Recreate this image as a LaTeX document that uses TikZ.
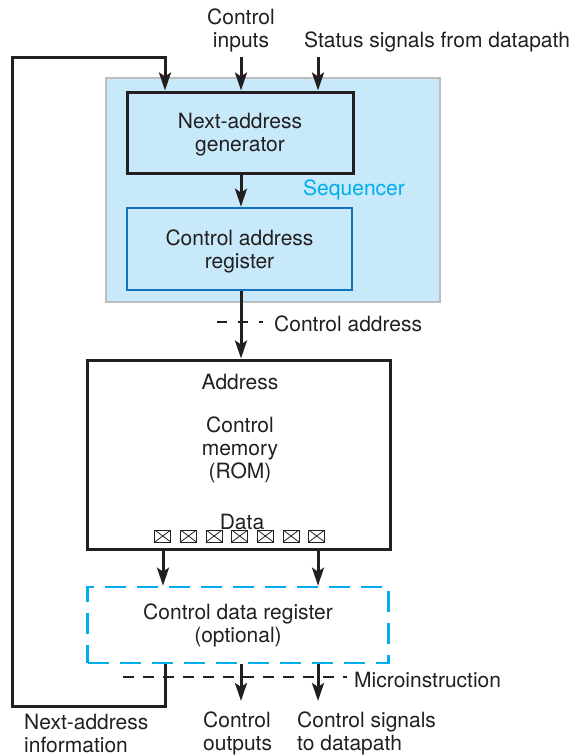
\documentclass[tikz,border=0pt]{standalone}
\usepackage{fontspec}
\setmainfont{TeX Gyre Heros}
\usetikzlibrary{arrows.meta}
\definecolor{seqfill}{HTML}{C7E9F9}
\definecolor{seqedge}{HTML}{BDBDBD}
\definecolor{regblue}{HTML}{1272BF}
\definecolor{skycyan}{HTML}{00AEEF}
\definecolor{ink}{HTML}{231F20}
\begin{document}
\begin{tikzpicture}[x=1pt,y=-1pt,
  font=\fontsize{21}{23}\selectfont,
  every node/.style={text=ink},
  wire/.style={draw=ink,line width=3pt},
  arr/.style={wire,-{Stealth[length=18pt,width=12pt,inset=4pt]}},
  blockbox/.style={draw=ink,line width=3pt,inner sep=0pt},
  seqbox/.style={draw=seqedge,fill=seqfill,line width=2.7pt,inner sep=0pt},
  carbox/.style={draw=regblue,line width=2.7pt,inner sep=0pt},
  cdrbox/.style={draw=skycyan,line width=2.7pt,dash pattern=on 21pt off 11pt,inner sep=0pt},
  bus/.style={draw=ink,line width=2.7pt,dash pattern=on 10pt off 11pt},
  txt/.style={inner sep=0pt,align=center},
  lbl/.style={txt,yshift=-1.5pt},
  lbl2/.style={txt,yshift=-2pt},
  cell/.style={draw=ink,line width=0.9pt,minimum width=16pt,minimum height=12pt,inner sep=0pt,
    path picture={\draw[ink,line width=0.8pt] (path picture bounding box.north west) -- (path picture bounding box.south east)
      (path picture bounding box.south west) -- (path picture bounding box.north east);}}
]
\useasboundingbox (0,0) rectangle (576,756);

% sequencer and its two blocks
\node[seqbox,minimum width=334pt,minimum height=224pt] (seq) at (273,190) {};
\node[blockbox,fill=seqfill,minimum width=226pt,minimum height=81pt] (nag) at (240,132.5) {};
\node[lbl2] (nagtxt) at (nag.center) {Next-address\\generator};
\node[carbox,fill=seqfill,minimum width=225pt,minimum height=82pt] (car) at (239.5,249) {};
\node[lbl2] (cartxt) at (car.center) {Control address\\register};
\node[lbl,anchor=west,text=skycyan] (seqlbl) at (303,188) {Sequencer};

% control memory
\node[blockbox,minimum width=303pt,minimum height=189pt] (mem) at (238.5,454.5) {};
\node[lbl] (addr) at (240,380) {Address};
\node[lbl2] (rom) at (240,448) {Control\\memory\\(ROM)};
\node[lbl] (data) at (242,520) {Data};
\foreach \i in {0,...,6}
  \node[cell] (c\i) at (162.8+25.65*\i,536) {};

% control data register
\node[cdrbox,minimum width=301pt,minimum height=76pt] (cdr) at (238,625) {};
\node[lbl2] (cdrtxt) at (238,623.5) {Control data register\\(optional)};

% inputs at the top
\node[lbl2] (cin) at (241,28) {Control\\inputs};
\node[lbl,anchor=west] (stat) at (304,40) {Status signals from datapath};
\coordinate (cintop) at (241,57);
\coordinate (stattop) at (318,57);
\draw[arr] (cintop) -- (cintop |- nag.north);
\draw[arr] (stattop) -- (stattop |- nag.north);

% next-address generator to register
\draw[arr] (nag.south -| 241,0) -- (car.north -| 241,0);

% control address bus
\coordinate (cab1) at (217,322);
\coordinate (cab2) at (263,322);
\draw[bus] (cab1) -- (cab2);
\node[lbl,anchor=west] (cablbl) at (274,322) {Control address};
\draw[arr] (car.south -| 241,0) -- (mem.north -| 241,0);

% memory data out
\draw[arr] (mem.south -| 163,0) -- (cdr.north -| 163,0);
\draw[arr] (mem.south -| 318,0) -- (cdr.north -| 318,0);

% microinstruction bus
\coordinate (mi1) at (123,677);
\coordinate (mi2) at (347,677);
\draw[bus,dash pattern=on 11pt off 9pt] (mi1) -- (mi2);
\node[lbl,anchor=west] (milbl) at (354,678) {Microinstruction};

% outputs
\draw[arr] (cdr.south -| 241,0) -- (241,701);
\draw[arr] (cdr.south -| 318,0) -- (318,701);

% next-address feedback loop
\coordinate (lb) at (165,706);
\coordinate (ll) at (12,706);
\coordinate (lt) at (12,57);
\draw[arr] (cdr.south -| lb) -- (lb) -- (ll) -- (lt) -| (nag.north -| lb);

% bottom labels
\node[txt,anchor=west,align=left] (nai) at (24,733) {Next-address\\information};
\node[txt,anchor=west,align=left] (cout) at (203,733) {Control\\outputs};
\node[txt,anchor=west,align=left] (csig) at (297,733) {Control signals\\to datapath};
\end{tikzpicture}
\end{document}
